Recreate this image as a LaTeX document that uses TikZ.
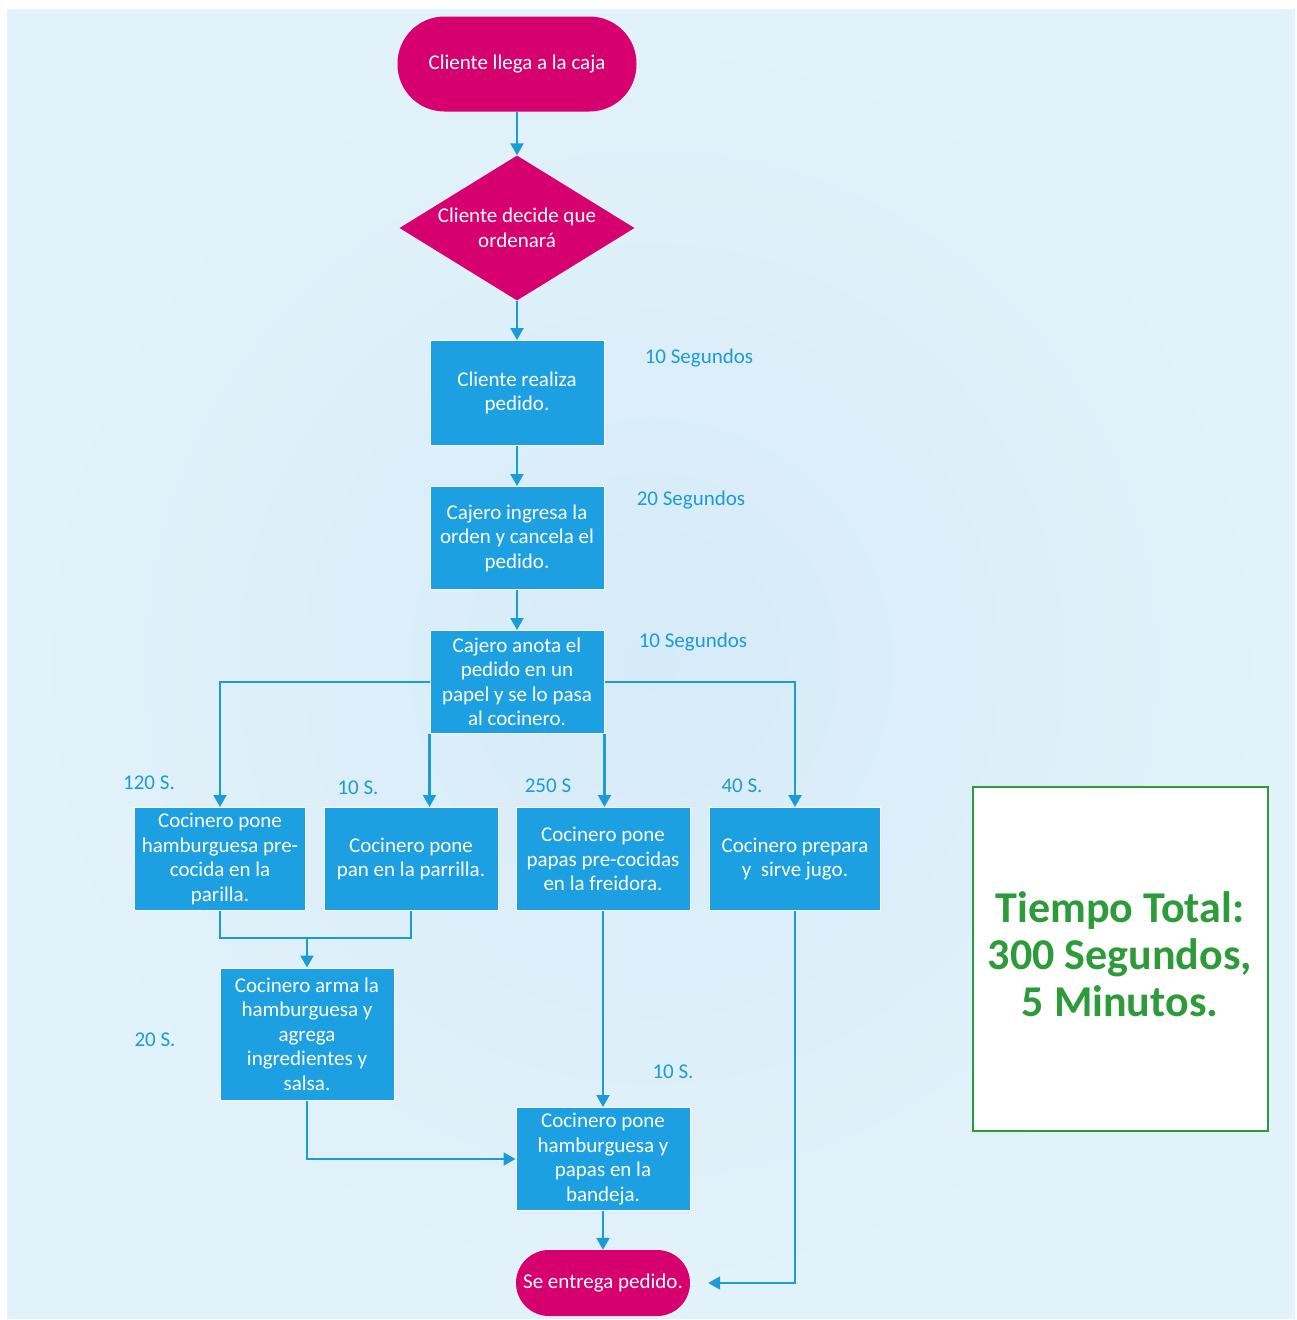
\documentclass[tikz,border=0pt]{standalone}
\usepackage{fontspec}
\setmainfont{Carlito}
\usetikzlibrary{shapes.geometric,arrows.meta}
\definecolor{pinkc}{RGB}{214,0,110}
\definecolor{boxc}{RGB}{29,160,225}
\definecolor{linec}{RGB}{27,155,215}
\definecolor{bgin}{RGB}{214,235,248}
\definecolor{bgout}{RGB}{226,242,250}
\definecolor{greenc}{RGB}{46,155,58}
\begin{document}
\begin{tikzpicture}[
  x = 1pt, y = -1pt,
  txt/.style = {font = \fontsize{21}{24.5}\selectfont, text = white, align = center},
  term/.style = {txt, fill = pinkc, inner sep = 0pt},
  decision/.style = {txt, diamond, fill = pinkc, inner sep = 0pt, shape aspect = 1.62,
                     minimum width = 235pt, minimum height = 145pt},
  proc/.style = {txt, fill = boxc, draw = white, line width = 1pt, inner sep = 0pt,
                 minimum width = 174pt, minimum height = 103pt},
  lbl/.style = {font = \fontsize{21}{24}\selectfont, text = linec},
  arr/.style = {draw = linec, line width = 2.2pt, -{Triangle[width = 13pt, length = 12pt]}},
  lin/.style = {draw = linec, line width = 2.2pt},
  ]
  \useasboundingbox (0,0) rectangle (1296,1320);
  \shade[inner color = bgin, outer color = bgout] (7,9) rectangle (1295,1318);

  % main column
  \node[term, minimum width = 239pt, minimum height = 95pt, rounded corners = 47pt]
    (start) at (517,64) {Cliente llega a la caja};
  \node[decision] (dec) at (517,228) {Cliente decide que\\ordenará};
  \node[proc, minimum height = 105pt] (p1) at (517,393) {Cliente realiza\\pedido.};
  \node[proc] (p2) at (517,538) {Cajero ingresa la\\orden y cancela el\\pedido.};
  \node[proc] (p3) at (517,682) {Cajero anota el\\pedido en un\\papel y se lo pasa\\al cocinero.};

  % cooks
  \node[proc, minimum width = 171pt] (c1) at (220,859) {Cocinero pone\\hamburguesa pre-\\cocida en la\\parilla.};
  \node[proc] (c2) at (411,859) {Cocinero pone\\pan en la parrilla.};
  \node[proc] (c3) at (603,859) {Cocinero pone\\papas pre-cocidas\\en la freidora.};
  \node[proc, minimum width = 171pt] (c4) at (795,859) {Cocinero prepara\\y\ \ sirve jugo.};
  \node[proc, minimum height = 132pt] (c5) at (307,1034) {Cocinero arma la\\hamburguesa y\\agrega\\ingredientes y\\salsa.};
  \node[proc] (p4) at (603,1159) {Cocinero pone\\hamburguesa y\\papas en la\\bandeja.};
  \node[term, minimum width = 174pt, minimum height = 66pt, rounded corners = 33pt]
    (fin) at (603,1283) {Se entrega pedido.};

  % times
  \node[lbl] (t1) at (699,358) {10 Segundos};
  \node[lbl] (t2) at (691,500) {20 Segundos};
  \node[lbl] (t3) at (693,642) {10 Segundos};
  \node[lbl] (t4) at (149,783) {120 S.};
  \node[lbl] (t5) at (358,788) {10 S.};
  \node[lbl] (t6) at (548,786) {250 S};
  \node[lbl] (t7) at (742,786) {40 S.};
  \node[lbl] (t8) at (155,1040) {20 S.};
  \node[lbl] (t9) at (673,1072) {10 S.};

  \node[draw = greenc, line width = 2pt, fill = white, minimum width = 295pt, minimum height = 344pt]
    (totalbox) at (1120,959) {};
  \node[text = greenc, align = center, font = \fontsize{44}{47}\selectfont\bfseries]
    (total) at (1120,954) {Tiempo Total:\\300 Segundos,\\5 Minutos.};

  \coordinate (mj) at (307,938);

  \draw[arr] (start) -- (dec);
  \draw[arr] (dec) -- (p1);
  \draw[arr] (p1) -- (p2);
  \draw[arr] (p2) -- (p3);
  \draw[arr] (p3.west) -| (c1.north);
  \draw[arr] (p3.east) -| (c4.north);
  \draw[arr] (p3.south west) -- (p3.south west |- c2.north);
  \draw[arr] (p3.south east) -- (p3.south east |- c3.north);
  \draw[lin] (c1.south) |- (mj);
  \draw[lin] (c2.south) |- (mj);
  \draw[arr] (mj) -- (c5.north);
  \draw[arr] (c5.south) |- (p4.west);
  \draw[arr] (c3.south) -- (p4.north);
  \draw[arr] (p4.south) -- (fin.north);
  \draw[arr, shorten > = 18pt] (c4.south) |- (fin.east);
\end{tikzpicture}
\end{document}
